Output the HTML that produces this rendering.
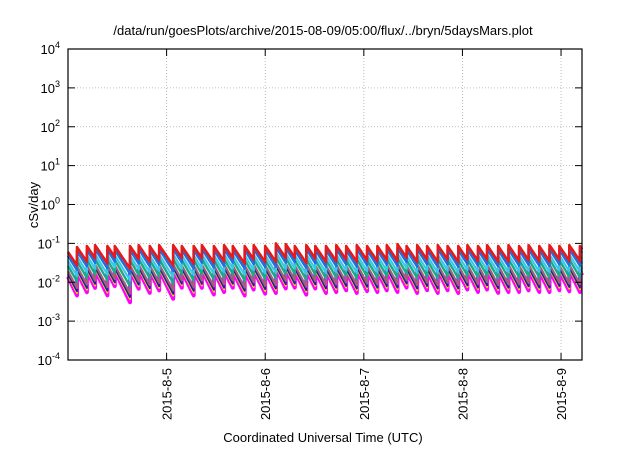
<!DOCTYPE html>
<html><head><meta charset="utf-8"><style>
body{margin:0;background:#fff}
svg text{font-family:"Liberation Sans",sans-serif;fill:#000}
</style></head><body>
<svg id="c" width="640" height="448" xmlns="http://www.w3.org/2000/svg">
<text x="323" y="35" font-size="13" text-anchor="middle">/data/run/goesPlots/archive/2015-08-09/05:00/flux/../bryn/5daysMars.plot</text>
<text transform="translate(38,205) rotate(-90)" font-size="13" text-anchor="middle">cSv/day</text>
<text x="323" y="442" font-size="13" text-anchor="middle">Coordinated Universal Time (UTC)</text>
<g id="grid"></g><g id="series"></g><g id="axes"></g>
</svg>
<script>
const yTickExps=[-4,-3,-2,-1,0,1,2,3,4];
const xTickLabels=["2015-8-5","2015-8-6","2015-8-7","2015-8-8","2015-8-9"];
const xTickHours=[24,48,72,96,120];
const spikeHours=[0,2.2,4.6,6.6,9.6,11.4,15.1,17.2,19.9,22.2,25.6,27.7,30.6,32.6,35.5,38,40.1,43,45.2,48,50.6,53,55.2,58,60.2,62.8,65.3,67.7,70.3,72.8,75.3,77.6,80.2,82.4,85,87.4,90,92.4,95,97.2,99.8,102,104.7,107.2,109.8,112.1,114.7,117.2,119.6,122,124.6];
const redPeaks=[0.06,0.08,0.085,0.09,0.085,0.085,0.085,0.09,0.085,0.09,0.09,0.085,0.085,0.09,0.085,0.09,0.085,0.085,0.09,0.085,0.1,0.095,0.085,0.09,0.085,0.085,0.09,0.085,0.09,0.085,0.085,0.09,0.095,0.085,0.09,0.085,0.09,0.085,0.085,0.09,0.085,0.09,0.085,0.09,0.085,0.09,0.085,0.09,0.085,0.09,0.085];
const seriesNames=["red","blue","cyan","green","mauve","navy","yellow","magenta"];
const seriesColors=["#e41a1c","#1e6fe0","#38c8e8","#1aaa88","#a0607a","#2020a0","#e8e000","#ff00ff"];
const seriesRatios=[1,0.8,0.58,0.44,0.32,0.27,0.25,0.23];
const seriesDecay=[0.36,0.38,0.4,0.42,0.45,0.46,0.47,0.5];
const seriesWidths=[2.6,2.6,2.2,2.4,2.2,2,2,4];
const endHour=125.1;
const L=68,R=582,T=49,B=360;
const xs=h=>L+h/endHour*(R-L);
const ys=v=>T+(4-Math.log10(v))*(B-T)/8;
const NS="http://www.w3.org/2000/svg";
const mk=(t,a,p)=>{const e=document.createElementNS(NS,t);for(const k in a)e.setAttribute(k,a[k]);p.appendChild(e);return e;};
const grid=document.getElementById('grid'),axes=document.getElementById('axes'),ser=document.getElementById('series');
yTickExps.forEach(e=>{const y=ys(Math.pow(10,e));
 if(e>-4&&e<4){const g=mk('line',{x1:L,x2:R,y1:y,y2:y,stroke:'#aaa','stroke-dasharray':'1,2','stroke-width':0.8},grid);}
 mk('line',{x1:L,x2:L+7,y1:y,y2:y,stroke:'#000'},axes);mk('line',{x1:R-7,x2:R,y1:y,y2:y,stroke:'#000'},axes);
 const t=mk('text',{x:L-8,y:y+5,'font-size':13,'text-anchor':'end'},axes);
 t.textContent='10';const s=mk('tspan',{dy:-6,'font-size':9},t);s.textContent=e;});
xTickHours.forEach((h,i)=>{const x=xs(h);
 const g=mk('line',{x1:x,x2:x,y1:T,y2:B,stroke:'#aaa','stroke-dasharray':'1,2','stroke-width':0.8},grid);
 mk('line',{x1:x,x2:x,y1:B,y2:B-7,stroke:'#000'},axes);mk('line',{x1:x,x2:x,y1:T,y2:T+7,stroke:'#000'},axes);
 const t=mk('text',{transform:`translate(${x+5},368) rotate(-90)`,'font-size':13,'text-anchor':'end'},axes);t.textContent=xTickLabels[i];});
for(let s=seriesNames.length-1;s>=0;s--){
 let d='';
 for(let i=0;i<spikeHours.length;i++){
  const t0=spikeHours[i],t1=i+1<spikeHours.length?spikeHours[i+1]:endHour;
  const pk=redPeaks[i]*seriesRatios[s];
  for(let k=0;k<=6;k++){const t=t0+(t1-t0)*k/6;const v=pk*Math.exp(-seriesDecay[s]*(t-t0));d+=(d?'L':'M')+xs(t).toFixed(1)+','+ys(v).toFixed(1);}
 }
 const p=mk('path',{d:d,fill:'none',stroke:seriesColors[s],'stroke-width':seriesWidths[s],'stroke-linejoin':'round'},ser);
 
 
}
const fr=mk('rect',{x:L,y:T,width:R-L,height:B-T,fill:'none',stroke:'#000','stroke-width':1.2},axes);
</script>
</body></html>
